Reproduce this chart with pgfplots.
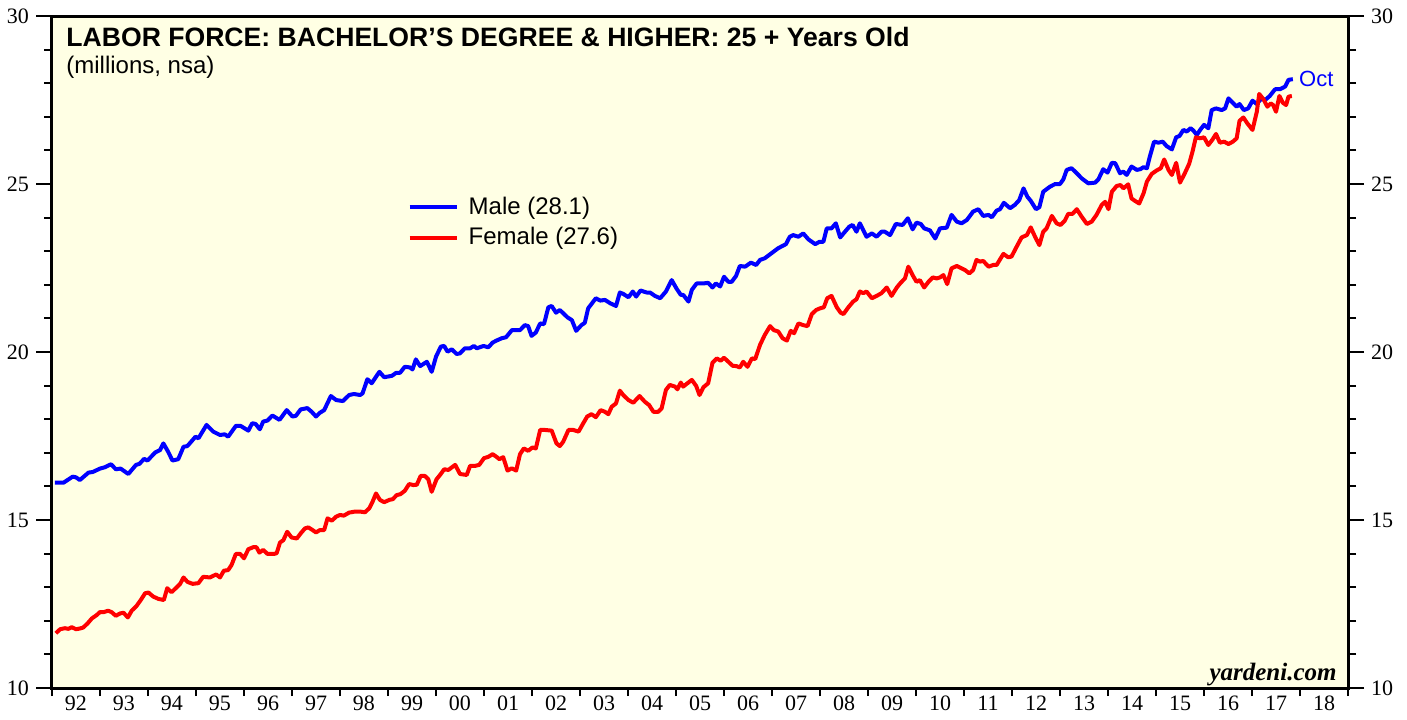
\documentclass[border=0pt]{standalone}
\usepackage{fontspec}
\setmainfont{Liberation Serif}
\newfontfamily\sans{Liberation Sans}
\usepackage{pgfplots}
\usepackage{pgfplotstable}
\pgfplotsset{compat=1.18}
\definecolor{bg}{RGB}{255,255,228}
\pgfplotstableread{
x y
1992.06 16.11
1992.24 16.11
1992.43 16.29
1992.50 16.27
1992.58 16.19
1992.76 16.41
1992.85 16.43
1993.00 16.53
1993.10 16.57
1993.23 16.66
1993.33 16.51
1993.43 16.53
1993.59 16.37
1993.75 16.64
1993.82 16.67
1993.92 16.82
1993.99 16.77
1994.15 17.01
1994.25 17.08
1994.32 17.28
1994.42 17.03
1994.51 16.77
1994.63 16.81
1994.74 17.18
1994.82 17.20
1994.99 17.48
1995.05 17.43
1995.22 17.83
1995.36 17.63
1995.50 17.53
1995.60 17.55
1995.67 17.48
1995.83 17.80
1995.93 17.80
1996.09 17.66
1996.17 17.88
1996.24 17.86
1996.33 17.70
1996.40 17.93
1996.49 17.96
1996.59 18.11
1996.74 17.98
1996.89 18.27
1997.01 18.08
1997.08 18.10
1997.18 18.29
1997.32 18.33
1997.41 18.22
1997.50 18.08
1997.58 18.19
1997.67 18.27
1997.81 18.69
1997.92 18.57
1998.06 18.54
1998.19 18.72
1998.29 18.75
1998.42 18.72
1998.47 18.77
1998.57 19.19
1998.66 19.07
1998.82 19.41
1998.92 19.25
1999.08 19.29
1999.17 19.38
1999.25 19.38
1999.35 19.56
1999.46 19.54
1999.51 19.48
1999.58 19.78
1999.67 19.58
1999.81 19.71
1999.91 19.41
2000.00 19.86
2000.10 20.16
2000.17 20.18
2000.24 20.01
2000.33 20.08
2000.43 19.94
2000.50 19.96
2000.60 20.11
2000.71 20.11
2000.79 20.18
2000.85 20.11
2000.99 20.18
2001.09 20.14
2001.18 20.28
2001.26 20.34
2001.37 20.41
2001.46 20.44
2001.58 20.65
2001.75 20.65
2001.85 20.80
2001.92 20.77
2001.99 20.48
2002.08 20.58
2002.17 20.85
2002.25 20.83
2002.34 21.33
2002.41 21.37
2002.50 21.17
2002.58 21.25
2002.74 21.03
2002.83 20.95
2002.92 20.63
2003.03 20.80
2003.10 20.87
2003.17 21.30
2003.33 21.60
2003.42 21.53
2003.52 21.55
2003.63 21.45
2003.75 21.37
2003.83 21.77
2003.90 21.73
2004.01 21.63
2004.10 21.80
2004.17 21.65
2004.26 21.83
2004.39 21.77
2004.46 21.77
2004.56 21.67
2004.67 21.60
2004.79 21.80
2004.91 22.14
2005.01 21.89
2005.10 21.70
2005.15 21.70
2005.26 21.50
2005.33 21.85
2005.43 22.04
2005.57 22.04
2005.67 22.06
2005.76 21.92
2005.83 22.04
2005.92 21.95
2006.00 22.24
2006.09 22.09
2006.16 22.09
2006.25 22.26
2006.33 22.56
2006.44 22.54
2006.56 22.66
2006.67 22.59
2006.75 22.74
2006.85 22.79
2006.99 22.94
2007.13 23.09
2007.29 23.21
2007.37 23.43
2007.44 23.48
2007.55 23.43
2007.65 23.53
2007.76 23.35
2007.90 23.21
2007.99 23.28
2008.07 23.28
2008.14 23.68
2008.24 23.68
2008.33 23.83
2008.42 23.41
2008.52 23.58
2008.61 23.73
2008.68 23.78
2008.76 23.58
2008.83 23.83
2008.97 23.43
2009.08 23.53
2009.18 23.43
2009.28 23.58
2009.35 23.58
2009.46 23.48
2009.58 23.81
2009.72 23.78
2009.83 23.98
2009.93 23.65
2010.01 23.85
2010.10 23.81
2010.17 23.68
2010.29 23.62
2010.40 23.38
2010.50 23.68
2010.64 23.70
2010.74 24.08
2010.85 23.88
2010.95 23.83
2011.06 23.93
2011.19 24.18
2011.30 24.25
2011.40 24.05
2011.51 24.08
2011.58 24.01
2011.68 24.21
2011.75 24.25
2011.83 24.44
2011.96 24.28
2012.06 24.38
2012.15 24.52
2012.24 24.87
2012.32 24.62
2012.39 24.50
2012.50 24.25
2012.57 24.31
2012.65 24.77
2012.79 24.92
2012.90 25.00
2013.00 25.00
2013.07 25.14
2013.14 25.42
2013.24 25.47
2013.35 25.32
2013.45 25.17
2013.59 25.02
2013.73 25.04
2013.80 25.14
2013.90 25.44
2013.99 25.34
2014.08 25.63
2014.15 25.62
2014.25 25.32
2014.32 25.37
2014.39 25.27
2014.49 25.52
2014.60 25.42
2014.67 25.44
2014.74 25.50
2014.81 25.47
2014.87 25.81
2014.96 26.26
2015.05 26.23
2015.14 26.26
2015.22 26.13
2015.33 26.03
2015.42 26.39
2015.49 26.43
2015.57 26.61
2015.64 26.56
2015.72 26.66
2015.78 26.59
2015.85 26.46
2015.92 26.61
2016.00 26.76
2016.09 26.66
2016.16 27.20
2016.25 27.25
2016.37 27.20
2016.44 27.25
2016.51 27.55
2016.61 27.40
2016.68 27.30
2016.74 27.38
2016.83 27.20
2016.92 27.25
2017.01 27.48
2017.10 27.38
2017.18 27.52
2017.29 27.52
2017.37 27.62
2017.48 27.82
2017.58 27.82
2017.69 27.90
2017.76 28.10
2017.85 28.12
}\male
\pgfplotstableread{
x y
1992.08 11.63
1992.17 11.75
1992.27 11.78
1992.34 11.76
1992.41 11.81
1992.50 11.75
1992.58 11.77
1992.65 11.80
1992.74 11.92
1992.83 12.07
1992.93 12.17
1993.00 12.26
1993.08 12.26
1993.17 12.30
1993.24 12.26
1993.33 12.15
1993.42 12.22
1993.49 12.24
1993.58 12.10
1993.66 12.30
1993.76 12.44
1993.85 12.62
1993.94 12.82
1994.01 12.84
1994.11 12.72
1994.22 12.65
1994.33 12.62
1994.40 12.97
1994.49 12.85
1994.60 13.00
1994.67 13.10
1994.74 13.29
1994.82 13.16
1994.93 13.10
1995.05 13.12
1995.15 13.31
1995.29 13.29
1995.42 13.38
1995.50 13.29
1995.58 13.49
1995.67 13.51
1995.74 13.66
1995.83 13.99
1995.92 13.99
1996.00 13.86
1996.09 14.13
1996.19 14.19
1996.26 14.19
1996.32 14.03
1996.40 14.11
1996.49 13.99
1996.62 13.99
1996.68 14.01
1996.75 14.33
1996.82 14.40
1996.90 14.65
1996.99 14.48
1997.10 14.45
1997.18 14.60
1997.27 14.75
1997.34 14.78
1997.43 14.70
1997.50 14.63
1997.58 14.70
1997.67 14.70
1997.74 15.05
1997.83 14.98
1997.92 15.10
1998.00 15.15
1998.08 15.13
1998.19 15.22
1998.31 15.25
1998.42 15.25
1998.52 15.23
1998.61 15.35
1998.68 15.55
1998.75 15.79
1998.83 15.60
1998.92 15.53
1999.03 15.60
1999.10 15.62
1999.18 15.74
1999.26 15.77
1999.35 15.87
1999.44 16.07
1999.53 16.04
1999.60 16.05
1999.68 16.31
1999.77 16.31
1999.84 16.21
1999.91 15.84
2000.01 16.21
2000.10 16.37
2000.17 16.51
2000.26 16.49
2000.35 16.59
2000.40 16.64
2000.50 16.37
2000.64 16.34
2000.71 16.61
2000.81 16.61
2000.90 16.64
2001.00 16.84
2001.09 16.88
2001.18 16.96
2001.26 16.88
2001.32 16.81
2001.40 16.87
2001.49 16.47
2001.58 16.54
2001.67 16.47
2001.75 16.96
2001.83 17.13
2001.92 17.06
2002.01 17.16
2002.08 17.13
2002.17 17.68
2002.27 17.68
2002.41 17.66
2002.51 17.28
2002.58 17.20
2002.65 17.33
2002.76 17.68
2002.86 17.68
2002.97 17.63
2003.06 17.86
2003.15 18.08
2003.24 18.15
2003.33 18.06
2003.43 18.27
2003.52 18.22
2003.59 18.15
2003.66 18.37
2003.75 18.47
2003.83 18.85
2003.90 18.72
2004.01 18.57
2004.11 18.49
2004.24 18.69
2004.35 18.52
2004.44 18.42
2004.53 18.22
2004.63 18.22
2004.70 18.32
2004.79 18.87
2004.87 19.02
2004.98 18.97
2005.03 18.89
2005.10 19.09
2005.15 18.97
2005.22 19.05
2005.33 19.17
2005.42 18.99
2005.49 18.72
2005.57 18.95
2005.67 19.07
2005.76 19.68
2005.85 19.81
2005.93 19.74
2006.00 19.83
2006.09 19.71
2006.18 19.59
2006.26 19.58
2006.33 19.54
2006.40 19.71
2006.49 19.56
2006.58 19.81
2006.65 19.79
2006.75 20.21
2006.85 20.51
2006.96 20.77
2007.04 20.65
2007.13 20.61
2007.22 20.41
2007.31 20.34
2007.39 20.63
2007.46 20.56
2007.55 20.85
2007.65 20.80
2007.74 20.77
2007.83 21.13
2007.92 21.25
2008.00 21.30
2008.08 21.33
2008.15 21.60
2008.24 21.67
2008.35 21.33
2008.43 21.17
2008.49 21.13
2008.59 21.33
2008.69 21.50
2008.76 21.57
2008.83 21.80
2008.90 21.75
2008.97 21.80
2009.08 21.60
2009.18 21.67
2009.28 21.75
2009.39 21.92
2009.49 21.67
2009.60 21.92
2009.68 22.06
2009.77 22.19
2009.84 22.54
2009.94 22.26
2010.01 22.09
2010.08 22.14
2010.17 21.92
2010.26 22.09
2010.35 22.22
2010.43 22.19
2010.50 22.22
2010.57 22.29
2010.65 22.02
2010.74 22.49
2010.85 22.56
2010.95 22.49
2011.02 22.44
2011.11 22.34
2011.19 22.44
2011.26 22.74
2011.33 22.69
2011.40 22.71
2011.51 22.54
2011.61 22.59
2011.68 22.59
2011.82 22.92
2011.92 22.82
2011.99 22.84
2012.08 23.09
2012.20 23.41
2012.31 23.48
2012.39 23.71
2012.48 23.43
2012.57 23.18
2012.65 23.58
2012.72 23.68
2012.83 24.05
2012.93 23.83
2013.01 23.78
2013.10 23.91
2013.17 24.11
2013.26 24.11
2013.35 24.25
2013.45 24.03
2013.56 23.81
2013.66 23.88
2013.76 24.08
2013.87 24.38
2013.94 24.47
2014.01 24.25
2014.08 24.77
2014.18 24.94
2014.26 24.97
2014.32 24.87
2014.42 24.99
2014.49 24.57
2014.56 24.50
2014.65 24.42
2014.74 24.72
2014.81 25.07
2014.91 25.30
2015.01 25.40
2015.10 25.47
2015.17 25.73
2015.26 25.42
2015.33 25.27
2015.42 25.63
2015.50 25.04
2015.60 25.32
2015.69 25.60
2015.76 25.96
2015.83 26.39
2015.92 26.36
2016.00 26.39
2016.09 26.16
2016.18 26.33
2016.25 26.49
2016.33 26.23
2016.42 26.26
2016.51 26.19
2016.60 26.26
2016.68 26.36
2016.74 26.88
2016.82 26.98
2016.90 26.81
2017.01 26.61
2017.10 27.15
2017.15 27.68
2017.24 27.52
2017.32 27.30
2017.39 27.40
2017.44 27.35
2017.50 27.15
2017.57 27.62
2017.64 27.42
2017.71 27.35
2017.76 27.60
2017.83 27.62
}\female
\begin{document}
\begin{tikzpicture}
\useasboundingbox (-26pt,-15.5pt) rectangle (677.5pt,344pt);
\begin{axis}[
  at={(0,0)}, anchor=south west,
  scale only axis, width=648pt, height=336pt,
  xmin=1992, xmax=2019, ymin=10, ymax=30,
  axis background/.style={fill=bg},
  axis line style={line width=1.5pt},
  tick align=outside, tick pos=left,
  xtick={1992.5,1993.5,...,2018.5},
  xticklabels={92,93,94,95,96,97,98,99,00,01,02,03,04,05,06,07,08,09,10,11,12,13,14,15,16,17,18},
  minor xtick={1992,1993,...,2019},
  major x tick style={draw=none},
  minor x tick style={line width=1pt,black},
  ytick={10,15,...,30},
  minor y tick num=4,
  every tick/.style={line width=1pt,black},
  major tick length=8pt, minor tick length=4pt,
  tick label style={font=\fontsize{11}{13}\selectfont},
  x tick label style={yshift=7.5pt},
  /pgf/number format/assume math mode=true,
  legend style={at={(rel axis cs:0.2695,0.743)}, anchor=north west, draw=none, fill=none,
    font=\sans\fontsize{12}{13}\selectfont, row sep=1pt, cells={anchor=west}},
  legend image code/.code={\draw[#1] (0pt,0pt) -- (23.5pt,0pt); \path (26.5pt,0pt);},
]
\addplot[blue, line width=2pt, line join=round] table[x=x,y=y] {\male};
\addlegendentry{Male (28.1)}
\addplot[red, line width=2pt, line join=round] table[x=x,y=y] {\female};
\addlegendentry{Female (27.6)}
\node[anchor=base west, font=\sans\bfseries\fontsize{13.3}{15}\selectfont, inner sep=0pt, xshift=7pt, yshift=-15pt] at (rel axis cs:0,1) {LABOR FORCE: BACHELOR’S DEGREE \& HIGHER: 25 + Years Old};
\node[anchor=base west, font=\sans\fontsize{12}{14}\selectfont, inner sep=0pt, xshift=7pt, yshift=-28.5pt] at (rel axis cs:0,1) {(millions, nsa)};
\node[anchor=base east, font=\bfseries\itshape\fontsize{12.5}{14}\selectfont, inner sep=0pt, xshift=-5.5pt, yshift=4pt] at (rel axis cs:1,0) {yardeni.com};
\node[anchor=west, text=blue, font=\sans\fontsize{11}{13}\selectfont, inner sep=0pt, xshift=3pt] at (axis cs:2017.85,28.12) {Oct};
\end{axis}
\begin{axis}[
  at={(0,0)}, anchor=south west,
  scale only axis, width=648pt, height=336pt,
  xmin=1992, xmax=2019, ymin=10, ymax=30,
  axis x line=none, axis y line*=right,
  axis line style={line width=1.5pt},
  tick align=outside,
  ytick={10,15,...,30},
  minor y tick num=4,
  every tick/.style={line width=1pt,black},
  major tick length=8pt, minor tick length=4pt,
  tick label style={font=\fontsize{11}{13}\selectfont},
  /pgf/number format/assume math mode=true,
]
\end{axis}
\end{tikzpicture}
\end{document}
